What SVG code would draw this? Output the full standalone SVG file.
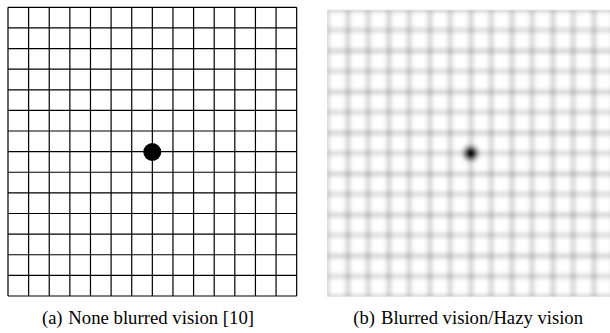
<svg xmlns="http://www.w3.org/2000/svg" width="610" height="333" viewBox="0 0 610 333">
  <defs>
    <style>
      .grid { stroke: #000; stroke-width: 1.2; fill: none; }
      .bgrid { stroke: #000; stroke-width: 1.35; fill: none; }
      .cap { font-family: "Liberation Serif", "Times New Roman", serif; font-size: 18.5px; fill: #000; }
    </style>
    <filter id="blur" x="-10%" y="-10%" width="120%" height="120%" filterUnits="objectBoundingBox">
      <feGaussianBlur stdDeviation="2.4"/>
    </filter>
    <clipPath id="clipB">
      <rect x="327" y="9.8" width="290" height="287"/>
    </clipPath>
  </defs>
  <rect width="610" height="333" fill="#fff"/>

  <g id="panel-a">
    <path class="grid" d="M8,7.3V296 M28.62,7.3V296 M49.24,7.3V296 M69.86,7.3V296 M90.48,7.3V296 M111.1,7.3V296 M131.72,7.3V296 M152.34,7.3V296 M172.96,7.3V296 M193.58,7.3V296 M214.2,7.3V296 M234.82,7.3V296 M255.44,7.3V296 M276.06,7.3V296 M296.68,7.3V296
      M8,7.3H296.68 M8,27.92H296.68 M8,48.54H296.68 M8,69.16H296.68 M8,89.78H296.68 M8,110.4H296.68 M8,131.02H296.68 M8,151.64H296.68 M8,172.26H296.68 M8,192.88H296.68 M8,213.5H296.68 M8,234.12H296.68 M8,254.74H296.68 M8,275.36H296.68 M8,295.98H296.68"/>
    <circle cx="152.3" cy="152" r="9" fill="#000"/>
  </g>

  <g id="panel-b" clip-path="url(#clipB)">
    <g filter="url(#blur)">
      <rect x="300" y="0" width="340" height="320" fill="#fff"/>
      <path class="bgrid" d="M327.3,9.8V296.8 M347.8,9.8V296.8 M368.3,9.8V296.8 M388.8,9.8V296.8 M409.3,9.8V296.8 M429.8,9.8V296.8 M450.3,9.8V296.8 M470.8,9.8V296.8 M491.3,9.8V296.8 M511.8,9.8V296.8 M532.3,9.8V296.8 M552.8,9.8V296.8 M573.3,9.8V296.8 M593.8,9.8V296.8 M614.3,9.8V296.8
        M327.3,9.8H614.3 M327.3,30.3H614.3 M327.3,50.8H614.3 M327.3,71.3H614.3 M327.3,91.8H614.3 M327.3,112.3H614.3 M327.3,132.8H614.3 M327.3,153.3H614.3 M327.3,173.8H614.3 M327.3,194.3H614.3 M327.3,214.8H614.3 M327.3,235.3H614.3 M327.3,255.8H614.3 M327.3,276.3H614.3 M327.3,296.8H614.3"/>
      <circle cx="470.8" cy="153.3" r="7.5" fill="#000"/>
    </g>
  </g>

  <g id="caption-a">
    <text class="cap" x="42" y="324">(a)</text>
    <text class="cap" x="68.3" y="324" textLength="185.7" lengthAdjust="spacingAndGlyphs">None blurred vision [10]</text>
  </g>
  <g id="caption-b">
    <text class="cap" x="353.3" y="324">(b)</text>
    <text class="cap" x="381" y="324" textLength="202" lengthAdjust="spacingAndGlyphs">Blurred vision/Hazy vision</text>
  </g>
</svg>
